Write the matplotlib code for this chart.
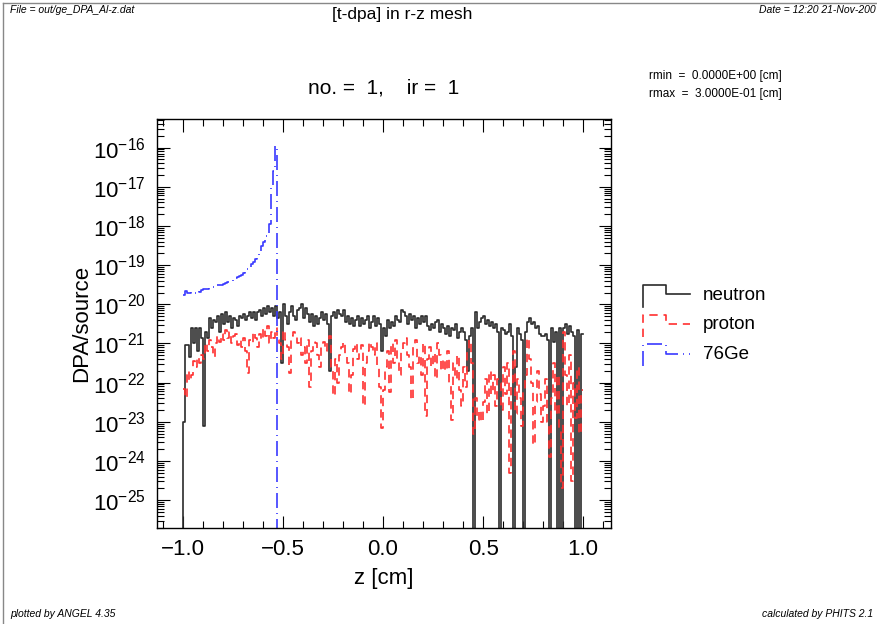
import numpy as np
import matplotlib
matplotlib.use('Agg')
import matplotlib.pyplot as plt
from matplotlib import font_manager
from matplotlib.lines import Line2D
from matplotlib.legend_handler import HandlerBase
from matplotlib.ticker import LogLocator, MultipleLocator, NullFormatter

# z mesh: 200 bins of 0.01 cm from -1 to 1
z_min, z_max, n_bins = -1.0, 1.0, 200

# log10(DPA/source) per bin, None = empty bin
neutron_log = [
    -23.0, -21.05, -21.05, -21.35, -20.6, -21.0, -20.6, -21.2, -20.6, -20.85,
    -23.1, -20.7, -20.85, -20.35, -20.6, -20.4, -20.45, -20.3, -20.7, -20.25,
    -20.5, -20.2, -20.45, -20.3, -20.6, -20.35, -20.4, -20.55, -20.3, -20.35,
    -20.25, -20.4, -20.3, -20.2, -20.35, -20.2, -20.4, -20.2, -20.15, -20.3,
    -20.1, -20.25, -20.05, -20.2, -20.1, -20.3, -20.05, -20.35, -20.2, -21.5,
    -20.0, -20.3, -20.5, -20.2, -20.05, -20.3, -20.4, -20.15, -20.1, -20.0,
    -20.35, -20.1, -20.25, -20.45, -20.25, -20.55, -20.3, -20.5, -20.35, -20.2,
    -20.4, -20.25, -20.5, -21.7, -20.3, -20.2, -20.35, -20.15, -20.25, -20.3,
    -20.15, -20.45, -20.3, -20.5, -20.35, -20.55, -20.4, -20.3, -20.55, -20.35,
    -20.5, -20.4, -20.3, -20.6, -20.45, -20.3, -20.55, -20.35, -20.5, -21.2,
    -20.6, -20.8, -20.4, -20.6, -20.45, -20.55, -20.3, -20.4, -20.45, -20.15,
    -20.2, -20.3, -20.5, -20.25, -20.4, -20.3, -20.6, -20.35, -20.5, -20.3,
    -20.45, -20.3, -20.55, -20.65, -20.5, -20.6, -20.45, -20.4, -20.7, -20.5,
    -20.6, -20.75, -20.55, -20.8, -20.6, -20.65, -20.5, -20.85, -20.7, -20.6,
    -20.7, -20.9, -21.7, -20.8, -20.6, None, -20.2, -20.6, -20.45, -20.35,
    -20.3, -20.5, -20.4, -20.55, -20.45, -20.6, -20.5, -20.7, None, -20.6,
    -20.65, -20.75, -20.7, -20.5, -20.8, None, -21.6, -20.6, -20.75, -20.9,
    None, -20.7, -20.45, -20.35, -20.5, -20.45, -20.6, -20.55, -20.75, -20.8,
    -20.8, -20.75, -20.9, None, -20.6, -20.95, -20.7, None, -20.6, None,
    -20.6, -20.5, -20.75, -20.55, -20.7, -20.8, None, -20.65, None, -20.75,
]

proton_log = [
    -22.15, -22.4, -21.7, -21.95, -21.8, -21.45, -21.6, -21.35, -21.5, -21.3,
    -21.4, -21.0, -21.2, -20.9, -21.1, -21.35, -21.0, -20.8, -20.95, -20.75,
    -20.9, -20.65, -20.85, -20.7, -21.0, -20.8, -20.75, -21.05, -20.9, -21.1,
    -20.85, -21.2, -21.75, -20.9, -21.0, -20.7, -20.85, -21.1, -20.75, -20.9,
    -20.6, -20.8, -20.55, -21.0, -20.7, -20.85, -20.6, -20.9, -21.0, -21.4,
    -20.65, -20.9, -21.1, -21.75, -20.8, -20.7, -20.75, -21.0, -20.85, -21.3,
    -21.1, -21.5, -20.9, -22.1, -21.2, -20.95, -21.0, -21.3, -21.6, -21.1,
    -20.95, -21.2, -21.0, -20.8, -21.6, -22.35, -21.4, -22.0, -21.3, -21.1,
    -20.95, -21.3, -21.5, -22.3, -21.8, -21.15, -21.0, -21.4, -21.2, -21.05,
    -22.6, -21.5, -21.2, -20.95, -21.1, -21.3, -21.0, -21.6, -22.1, -23.15,
    -22.2, -21.6, -21.2, -22.25, -21.0, -21.5, -20.9, -21.4, -21.8, -21.2,
    -21.0, -20.85, -21.3, -21.6, -22.45, -21.1, -20.9, -21.5, -21.3, -21.8,
    -21.0, -22.85, -21.4, -21.1, -21.6, -21.25, -21.9, -21.0, -21.3, -21.7,
    -21.4, -21.7, -21.2, -22.0, -22.95, -21.5, -21.9, -21.3, -22.2, -22.6,
    -21.6, -22.1, -21.2, -20.9, -21.5, -23.3, -22.4, -22.95, -22.7, -23.0,
    -22.5, -21.9, -22.8, -21.7, -22.3, -21.8, -22.6, -21.9, -22.0, -22.7,
    -21.6, -22.3, -21.5, -24.3, -22.1, -21.2, -22.8, -21.9, -22.4, -23.1,
    -22.2, -21.8, -20.85, -21.4, -22.0, -23.6, -22.5, -21.7, -22.3, -23.0,
    -22.6, -21.9, -23.0, -23.9, -22.4, -21.5, -22.8, -21.8, -23.2, -24.7,
    -20.7, -21.8, -22.6, -21.3, -24.5, -22.0, -22.9, -21.6, -23.3, -22.2,
]

# 76Ge only in the first 47 bins, empty afterwards
ge76_log = [
    -19.75, -19.65, -19.7, -19.7, -19.68, -19.72, -19.7, -19.66, -19.68, -19.64,
    -19.62, -19.62, -19.6, -19.58, -19.57, -19.55, -19.55, -19.52, -19.5, -19.5,
    -19.47, -19.45, -19.44, -19.42, -19.4, -19.36, -19.33, -19.3, -19.28, -19.24,
    -19.2, -19.16, -19.1, -19.05, -18.98, -18.92, -18.85, -18.75, -18.65, -18.52,
    -18.4, -18.25, -18.2, -17.95, -17.0, -16.6, -15.95,
] + [None] * 153

labels = ['neutron', 'proton', '76Ge']

W, H = 878, 624


def to_linear(logs):
    return np.array([0.0 if v is None else 10.0 ** v for v in logs])


def px(x, y):
    return x / W, 1 - y / H


class StepHandler(HandlerBase):
    # legend sample drawn as a small histogram step
    def create_artists(self, legend, orig_handle, xdescent, ydescent,
                       width, height, fontsize, trans):
        xs = np.array([0.0, 0.0, 0.5, 0.5, 1.0]) * width - xdescent
        ys = np.array([-0.3, 1.0, 1.0, 0.45, 0.45]) * height - ydescent
        line = Line2D(xs, ys, color=orig_handle.get_color(),
                      linewidth=orig_handle.get_linewidth(),
                      linestyle=orig_handle.get_linestyle())
        line.set_dashes(orig_handle._unscaled_dash_pattern[1] or [])
        line.set_transform(trans)
        return [line]


def main():
    names = [f.name for f in font_manager.fontManager.ttflist]
    narrow = 'Liberation Sans Narrow' if 'Liberation Sans Narrow' in names else 'Liberation Sans'
    plt.rcParams['font.family'] = ['Liberation Sans', 'DejaVu Sans']
    plt.rcParams['mathtext.fontset'] = 'custom'
    plt.rcParams['mathtext.rm'] = 'Liberation Sans'
    plt.rcParams['mathtext.it'] = 'Liberation Sans:italic'
    plt.rcParams['mathtext.bf'] = 'Liberation Sans:bold'

    fig = plt.figure(figsize=(W / 100, H / 100), dpi=100)
    ax = fig.add_axes([157 / W, 1 - 528 / H, (611 - 157) / W, (528 - 119) / H])

    edges = np.linspace(z_min, z_max, n_bins + 1)
    neutron = to_linear(neutron_log)
    proton = to_linear(proton_log)
    ge76 = to_linear(ge76_log)

    # neutron rises from the bottom at z = -1
    h1, = ax.step(edges, np.r_[0.0, neutron], where='pre', color='#2b2b2b', lw=1.2)
    h2, = ax.step(edges, np.r_[proton[0], proton], where='pre', color='#ff3030',
                  lw=1.2, linestyle=(0, (5, 3.5)))
    h3, = ax.step(edges, np.r_[ge76[0], ge76], where='pre', color='#3a3aff',
                  lw=1.2, linestyle=(0, (9, 3, 0.6, 3)))

    ax.set_yscale('log', nonpositive='clip')
    ax.set_xlim(-1.129, 1.139)
    ax.set_ylim(10 ** -25.71, 10 ** -15.27)
    ax.yaxis.set_major_locator(LogLocator(base=10, numticks=30))
    ax.yaxis.set_minor_locator(LogLocator(base=10, subs=np.arange(2, 10), numticks=30))
    ax.yaxis.set_minor_formatter(NullFormatter())
    ax.xaxis.set_major_locator(MultipleLocator(0.5))
    ax.xaxis.set_minor_locator(MultipleLocator(0.1))
    ax.tick_params(which='both', direction='in', top=True, right=True, width=0.8)
    ax.tick_params(which='major', length=9, labelsize=16, pad=8)
    ax.tick_params(which='minor', length=5)
    for s in ax.spines.values():
        s.set_linewidth(1.0)

    ax.set_xlabel('z [cm]', fontsize=16, labelpad=6)
    ax.set_ylabel('DPA/source', fontsize=16, labelpad=1)

    ax.legend([h1, h2, h3], labels, handler_map={Line2D: StepHandler()},
              loc='upper left', bbox_to_anchor=px(643, 285),
              bbox_transform=fig.transFigure, frameon=False, fontsize=13.5,
              handlelength=2.5, handleheight=1.0, handletextpad=0.7, labelspacing=0.58,
              borderpad=0, borderaxespad=0)

    # page texts
    fig.text(*px(10, 10), 'File = out/ge_DPA_Al-z.dat', fontsize=7.5, style='italic',
             family=narrow, ha='left', va='center')
    fig.text(*px(402, 14), '[t-dpa] in r-z mesh', fontsize=12.5, family=narrow,
             ha='center', va='center')
    fig.text(*px(876, 10), 'Date = 12:20 21-Nov-200', fontsize=7.5, style='italic',
             family=narrow, ha='right', va='center')
    fig.text(*px(384, 88), 'no. =  1,    ir =  1', fontsize=15, ha='center', va='center')
    fig.text(*px(649, 76), 'rmin  =  0.0000E+00 [cm]', fontsize=8.5, family=narrow,
             ha='left', va='center')
    fig.text(*px(649, 94), 'rmax  =  3.0000E-01 [cm]', fontsize=8.5, family=narrow,
             ha='left', va='center')
    fig.text(*px(10, 614), 'plotted by ANGEL 4.35', fontsize=7.5, style='italic',
             family=narrow, ha='left', va='center')
    fig.text(*px(873, 614), 'calculated by PHITS 2.1', fontsize=7.5, style='italic',
             family=narrow, ha='right', va='center')

    # page frame (left and top edges)
    fig.add_artist(Line2D([3 / W, 3 / W], [0, 1 - 3 / H], transform=fig.transFigure,
                          color='#888888', lw=1.0))
    fig.add_artist(Line2D([3 / W, 1], [1 - 3 / H, 1 - 3 / H], transform=fig.transFigure,
                          color='#888888', lw=1.0))

    fig.savefig('out.png', dpi=100)


if __name__ == '__main__':
    main()
